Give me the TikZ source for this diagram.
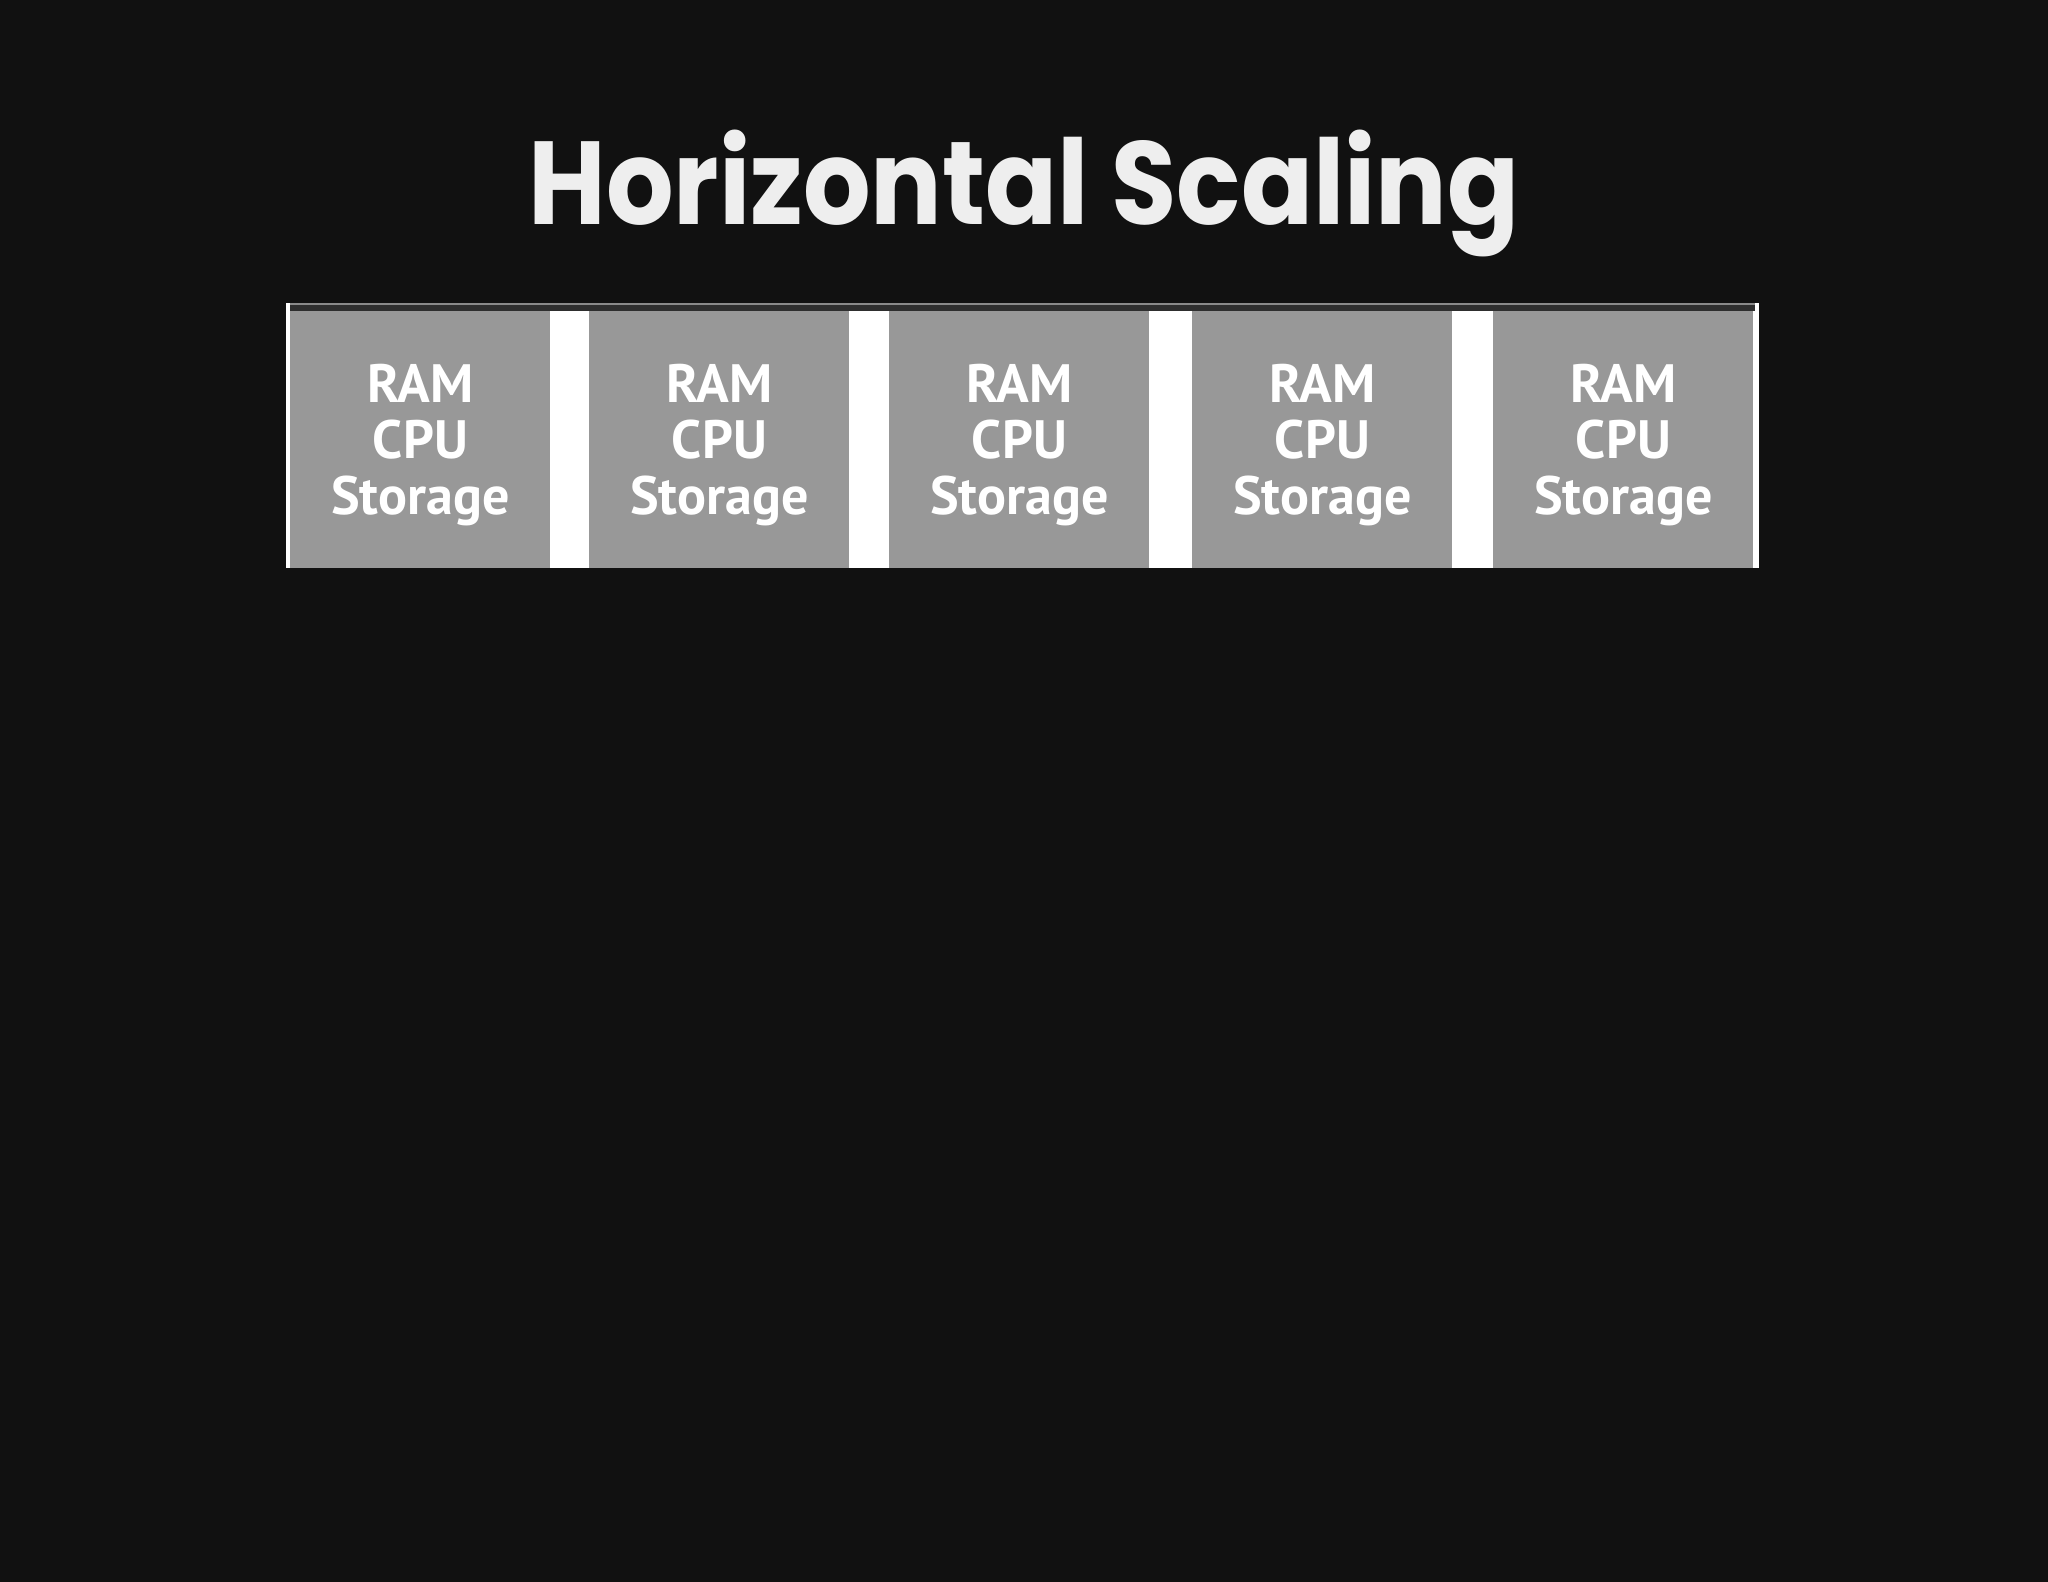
\documentclass[tikz,border=0pt]{standalone}
\usepackage{fontspec}
\usepackage{tikz}
\newfontfamily\titlefont{Poppins}[FakeStretch=0.9]
\newfontfamily\boxfont{PT Sans}
\definecolor{bgdark}{HTML}{111111}
\definecolor{boxgray}{HTML}{989898}
\definecolor{bandgray}{HTML}{2E2E2E}
\definecolor{rimgray}{HTML}{8A8A8A}
\definecolor{textwhite}{HTML}{EEEEEE}
\tikzset{
  titletext/.style={text=textwhite, inner sep=0pt, anchor=base,
    font=\titlefont\bfseries\fontsize{59}{59}\selectfont},
  server/.style={fill=boxgray, inner sep=0pt,
    minimum width=130pt, minimum height=128.5pt, anchor=north west},
  servertext/.style={text=white, align=center, inner sep=0pt,
    font=\boxfont\bfseries\fontsize{27}{28}\selectfont}
}

\begin{document}
\begin{tikzpicture}[x=0.5pt,y=-0.5pt]
            % Background
            \fill[bgdark] (0,0) rectangle (2048,1582);
            \useasboundingbox (0,0) rectangle (2048,1582);

            % Title
            \node[titletext] (title) at (1024,225) {Horizontal Scaling};

            % Strip frame
            \fill[white] (286,303) rectangle (1759,568);
            \fill[rimgray] (290,303) rectangle (1755,305);
            \fill[bandgray] (290,305) rectangle (1755,311);

            % Servers
            \foreach \i/\x in {1/290,2/589,3/889,4/1192,5/1493}{
                \node[server] (box\i) at (\x,311) {};
                \node[servertext] (spec\i) at ([yshift=-2.5pt]box\i.center) {RAM\\CPU\\Storage};
            }
\end{tikzpicture}
\end{document}
